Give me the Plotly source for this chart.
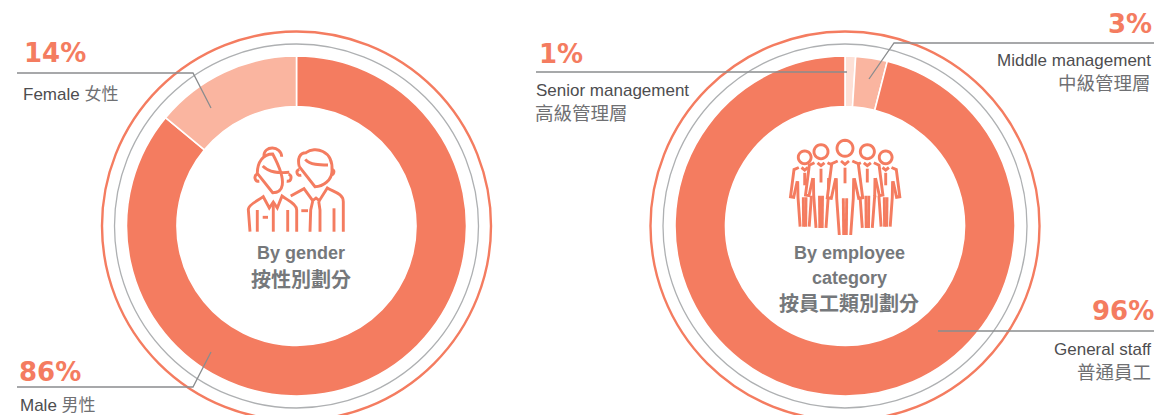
import math
import plotly.graph_objects as go

W, H = 1154, 415
CORAL = "#f47c60"
LIGHT = "#fab5a0"
PALE = "#fde0d6"
RINGGRAY = "#aeb0b2"
LEADER = "#8a8c8e"
TEXT = "#4d4d4f"
CN = "#6f7073"
HEAD = "#75787b"
FONT = "Liberation Sans, sans-serif"
CJK = "Noto Sans CJK TC, sans-serif"

gender_labels = ["Male 男性", "Female 女性"]
gender_values = [86, 14]
category_labels = ["Senior management 高級管理層", "Middle management 中級管理層", "General staff 普通員工"]
category_values = [1, 3, 96]

R_OUT, R_HOLE, R_GRAY, R_RING = 170, 119.5, 182, 194.5
CY = 226
CX_L, CX_R = 296.5, 845


def pie(labels, values, colors, cx):
    return go.Pie(
        labels=labels, values=values, sort=False, direction="clockwise", rotation=0,
        hole=R_HOLE / R_OUT, textinfo="none", hoverinfo="label+percent", showlegend=False,
        marker=dict(colors=colors, line=dict(color="white", width=1.6)),
        domain=dict(x=[(cx - R_OUT) / W, (cx + R_OUT) / W],
                    y=[1 - (CY + R_OUT) / H, 1 - (CY - R_OUT) / H]),
    )


fig = go.Figure()
fig.add_trace(pie(gender_labels, gender_values, [CORAL, LIGHT], CX_L))
fig.add_trace(pie(category_labels, category_values, [PALE, LIGHT, CORAL], CX_R))

shapes = []


def circle(cx, r, color, width):
    shapes.append(dict(type="circle", xref="x", yref="y", x0=cx - r, x1=cx + r, y0=CY - r, y1=CY + r,
                       line=dict(color=color, width=width), layer="below"))


for c in (CX_L, CX_R):
    circle(c, R_RING, CORAL, 2.4)
    circle(c, R_GRAY, RINGGRAY, 1.3)


def poly(points):
    d = "M" + " L".join(f"{x},{y}" for x, y in points)
    shapes.append(dict(type="path", xref="x", yref="y", path=d, line=dict(color=LEADER, width=1.3), layer="above"))


poly([(17, 73), (193, 73), (211, 108)])
poly([(17, 387), (193, 387), (211, 352)])
poly([(536, 72), (847, 72)])
poly([(1154, 43), (894, 43), (869, 79)])
poly([(938, 331), (1154, 331)])


def icon(path_cmds, ox, oy, scale=3.0, width=2.9, fill=None):
    out = []
    for cmd in path_cmds:
        letter, nums = cmd[0], cmd[1:]
        pts = []
        for i in range(0, len(nums), 2):
            pts.append(f"{ox + nums[i] / scale:.1f},{oy + nums[i + 1] / scale:.1f}")
        out.append(letter + " ".join(pts))
    s = dict(type="path", xref="x", yref="y", path=" ".join(out),
             line=dict(color=CORAL, width=width), layer="above")
    if fill:
        s["fillcolor"] = fill
    shapes.append(s)


# Couple icon (local coords are a 3x view of the region starting at 180,130)
couple = [
    # woman
    [("M", 232, 130), ("C", 232, 95, 250, 72, 278, 72, 306, 72, 328, 95, 328, 130),
     ("C", 328, 165, 305, 188, 278, 188, 251, 188, 232, 165, 232, 130), ("Z",)],
    [("M", 232, 132), ("C", 220, 138, 224, 155, 238, 154)],
    [("M", 326, 132), ("C", 338, 138, 334, 155, 320, 154)],
    [("M", 252, 78), ("C", 250, 46, 304, 46, 305, 80)],
    [("M", 248, 108), ("C", 268, 128, 295, 130, 328, 127)],
    [("M", 210, 305), ("L", 205, 238), ("C", 206, 222, 235, 212, 250, 200), ("L", 268, 234), ("L", 280, 216), ("L", 292, 234),
     ("L", 306, 198), ("C", 325, 212, 350, 222, 350, 240), ("L", 350, 305)],
    [("M", 232, 305), ("L", 232, 240)],
    [("M", 323, 305), ("L", 323, 240)],
    [("M", 248, 262), ("L", 264, 262)],
    [("M", 280, 216), ("L", 280, 305)],
    # man
    [("M", 358, 110), ("C", 352, 88, 358, 68, 378, 68), ("C", 405, 48, 460, 60, 456, 122),
     ("C", 456, 150, 430, 170, 405, 170, 385, 170, 364, 150, 362, 122), ("L", 358, 110)],
    [("M", 358, 118), ("C", 346, 122, 350, 138, 364, 136)],
    [("M", 456, 118), ("C", 466, 122, 462, 136, 450, 136)],
    [("M", 376, 88), ("C", 390, 105, 420, 105, 444, 105)],
    [("M", 332, 198), ("L", 372, 176), ("L", 398, 212), ("L", 408, 204), ("L", 418, 212), ("L", 442, 174),
     ("C", 460, 186, 490, 190, 490, 215), ("L", 490, 305)],
    [("M", 364, 242), ("L", 384, 242)],
    [("M", 398, 214), ("L", 392, 240), ("L", 390, 305)],
    [("M", 416, 214), ("L", 420, 240), ("L", 420, 305)],
    [("M", 462, 305), ("L", 462, 235)],
]
for c in couple:
    icon(c, 180, 130)


# Group icon: one person template, placed five times
def person(cx, cy, s):
    def P(dx, dy):
        return (cx + dx * s, cy + dy * s)

    def seg(*pts, close=False, fill=None, width=2.9):
        cmds = [("M",) + P(*pts[0])] + [("L",) + P(*p) for p in pts[1:]]
        if close:
            cmds.append(("Z",))
        icon(cmds, 740, 130, fill=fill, width=width)

    seg((-25, 40), (-40, 46), (-53, 150), (-40, 150), (-25, 150), (-18, 262), (18, 262), (25, 150), (40, 150), (53, 150), (40, 46), (25, 40),
        close=True, fill="white", width=0)
    for sgn in (-1, 1):
        seg((sgn * 22, 38), (sgn * 40, 46), (sgn * 53, 148), (sgn * 41, 150), (sgn * 28, 90))
        seg((sgn * 26, 90), (sgn * 25, 150), (sgn * 17, 260))
        seg((sgn * 5, 150), (sgn * 4, 260))
    seg((-12, 38), (0, 48), (12, 38))
    seg((0, 58), (0, 105))
    n = 28
    ring = [("M",) + P(24, 0)]
    for i in range(1, n):
        a = 2 * math.pi * i / n
        ring.append(("L",) + P(24 * math.cos(a), 24 * math.sin(a)))
    ring.append(("Z",))
    icon(ring, 740, 130, fill="white")


for cx, cy, s in [(194, 82, 0.8), (437, 82, 0.8), (243, 65, 0.88), (382, 65, 0.88), (315, 55, 1.0)]:
    person(cx, cy, s)

ann = []


def text(s, x, y, size, color, anchor="left", family=FONT, bold=False):
    ann.append(dict(text=f"<b>{s}</b>" if bold else s, x=x, y=y, xref="x", yref="y", xanchor=anchor, yanchor="middle",
                    showarrow=False, align=anchor, font=dict(size=size, color=color, family=family), borderpad=0, borderwidth=0))


PCT = "DejaVu Sans, sans-serif"
text("14%", 24, 53, 26, CORAL, family=PCT, bold=True)
text("86%", 19, 372, 26, CORAL, family=PCT, bold=True)
text("1%", 539, 54, 26, CORAL, family=PCT, bold=True)
text("3%", 1152, 24, 26, CORAL, "right", family=PCT, bold=True)
text("96%", 1154, 311, 26, CORAL, "right", family=PCT, bold=True)

text(f'Female <span style="font-family:{CJK};color:{CN}">女性</span>', 23, 92, 17, TEXT)
text(f'Male <span style="font-family:{CJK};color:{CN}">男性</span>', 20, 403, 17, TEXT)
text("Senior management", 536, 90, 17, TEXT)
text("高級管理層", 535, 112, 18.5, CN, family=CJK)
text("Middle management", 1151, 60, 17, TEXT, "right")
text("中級管理層", 1151, 82, 18.5, CN, "right", family=CJK)
text("General staff", 1151, 349, 17, TEXT, "right")
text("普通員工", 1151, 371, 18.5, CN, "right", family=CJK)

text("By gender", 301, 253, 18, HEAD, "center", bold=True)
text("按性別劃分", 301, 278, 20, HEAD, "center", family=CJK, bold=True)
text("By employee", 849, 253, 18, HEAD, "center", bold=True)
text("category", 849, 278, 18, HEAD, "center", bold=True)
text("按員工類別劃分", 849, 302, 20, HEAD, "center", family=CJK, bold=True)

fig.update_layout(
    width=W, height=H, margin=dict(l=0, r=0, t=0, b=0),
    paper_bgcolor="white", plot_bgcolor="white", showlegend=False,
    xaxis=dict(range=[0, W], visible=False, fixedrange=True),
    yaxis=dict(range=[H, 0], visible=False, fixedrange=True),
    shapes=shapes, annotations=ann,
)
fig.write_html("out.html", config=dict(displayModeBar=False),
               post_script="document.body.style.margin='0';document.documentElement.style.overflow='hidden';")
